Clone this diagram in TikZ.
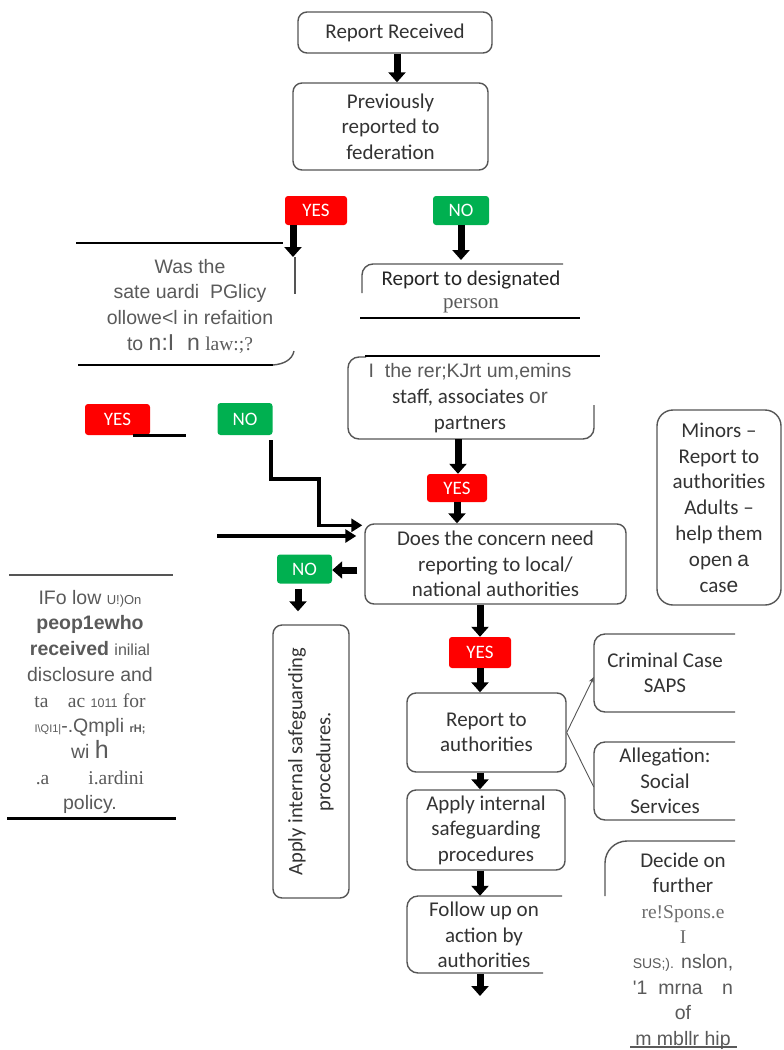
\documentclass[tikz,border=0pt]{standalone}
\usepackage{fontspec}
\setmainfont{Carlito}
\newfontfamily\arialf{Liberation Sans}
\newfontfamily\timesf{Liberation Serif}
\usetikzlibrary{arrows.meta}
\definecolor{boxgray}{HTML}{555555}
\definecolor{txtdark}{HTML}{333333}
\definecolor{ocrgray}{HTML}{5A5A5A}
\definecolor{ocrlight}{HTML}{6E6E6E}
\definecolor{yesred}{HTML}{FF0000}
\definecolor{nogreen}{HTML}{00B050}
\tikzset{
  fbox/.style={draw=boxgray, line width=1.4pt, rounded corners=9pt, align=center, text=txtdark,
    font=\fontsize{21}{25.5}\selectfont, inner sep=0pt},
  ftext/.style={align=center, text=txtdark, font=\fontsize{21}{25.5}\selectfont, inner sep=0pt},
  openbox/.style={draw=boxgray, line width=1.4pt, rounded corners=11pt},
  ybox/.style={fill=yesred, rounded corners=3pt, text=white, font=\fontsize{19}{20}\selectfont, inner sep=0pt},
  nbox/.style={fill=nogreen, rounded corners=3pt, text=white, font=\fontsize{19}{20}\selectfont, inner sep=0pt},
  blockarrow/.style={draw=black, line width=7pt, -{Triangle[width=17pt,length=10pt]}},
  elbow/.style={draw=black, line width=3.5pt, -{Triangle[width=13pt,length=11pt]}},
  thinarrow/.style={draw=boxgray, line width=0.9pt},
  ocr/.style={text=ocrgray, align=center, font=\arialf\fontsize{19.5}{25.7}\selectfont, inner sep=0pt},
  rule/.style={draw=black, line width=2pt},
  grayrule/.style={draw=boxgray, line width=1.4pt},
}
\begin{document}
\begin{tikzpicture}[x=1pt,y=-1pt]
\useasboundingbox[fill=white] (0,0) rectangle (784,1050);

% top chain
\node[fbox, minimum width=194pt, minimum height=41pt] (rr) at (395,32.5) {Report Received};
\node[fbox, minimum width=195pt, minimum height=87pt] (prev) at (390.5,126.5) {Previously\\reported to\\federation};
\draw[blockarrow] ([xshift=2pt]rr.south) -- ([xshift=2pt]rr.south |- prev.north);

\node[ybox, minimum width=62pt, minimum height=29pt] (yes1) at (316,210.5) {YES};
\node[nbox, minimum width=56pt, minimum height=29pt] (no1) at (461,210.5) {NO};

% "Was the ..." block
\node[ocr] (was) at (190,306) {Was the\\sate uardi\ \ PGlicy\\ollowe<l in refaition\\to {\fontsize{23}{25.7}\selectfont n:I\ \ n} {\timesf law:;?}};
\coordinate (wasin) at (293,257);
\draw[blockarrow] (yes1.south -| wasin) -- (wasin);
\draw[grayrule] (295,257) -- (295,294);
\draw[line width=1.7pt] (76,243) -- (283,243);
\draw[line width=2.3pt] (78,365) -- (273,365);
\draw[grayrule] (294,351) .. controls (292,360) and (284,364) .. (273,365);

% Report to designated person
\node[ftext, font=\fontsize{21}{23}\selectfont, text=black!85] (des) at (471,292) {Report to designated\\{\timesf\color{ocrgray}person}};
\draw[openbox] (362,293) -- (362,264) -- (563,264);
\draw[rule] (360,318) -- (580,318);
\coordinate (desin) at (461,260);
\draw[blockarrow] (no1.south) -- (desin);

% staff box
\node[ftext, font=\fontsize{21}{26}\selectfont] (staff) at (470,398) {{\arialf\fontsize{19.5}{26}\selectfont\color{ocrgray}I\ \ the rer;KJrt um,emins}\\staff, associates {\arialf\color{ocrgray}or}\\partners};
\draw[openbox] (366,357) -- (348,357) -- (348,439) -- (594,439) -- (594,405);
\draw[rule] (365,356) -- (600,356);

\node[ybox, minimum width=60pt, minimum height=28pt] (yes2) at (457,488) {YES};
\coordinate (staffbot) at (458,439);
\draw[blockarrow] (staffbot) -- (staffbot |- yes2.north);
\node[fbox, minimum width=261pt, minimum height=80pt] (does) at (495.5,564) {Does the concern need\\reporting to local/\\national authorities};
\draw[blockarrow] (yes2.south) -- (yes2.south |- does.north);

% left YES / NO
\node[ybox, minimum width=65pt, minimum height=31pt] (yesL) at (117.5,419.5) {YES};
\draw[line width=3pt] (133,435) -- (186,435);
\node[nbox, minimum width=55pt, minimum height=32pt] (noL) at (245,419) {NO};
\draw[elbow] ([xshift=-1.5pt,yshift=-5pt]noL.south east) |- (319,479) |- ([xshift=-2pt,yshift=-2pt]does.north west);
\coordinate (lin) at (217,536);
\draw[elbow] (lin) -- ([xshift=-8pt]does.west |- lin);

% NO branch to internal procedures
\node[nbox, minimum width=55pt, minimum height=29pt] (no2) at (304.5,569) {NO};
\coordinate (nostart) at ([yshift=-6pt,xshift=-7pt]does.west);
\draw[blockarrow] (nostart) -- (no2.east |- nostart);
\node[fbox, rotate=90, minimum width=273pt, minimum height=76pt, font=\fontsize{20.5}{28}\selectfont] (applyV) at (311,761.5) {Apply internal safeguarding\\procedures.};
\draw[blockarrow, shorten <=5pt, shorten >=13pt] ([xshift=-6.5pt]no2.south) -- ([xshift=-6.5pt]no2.south |- applyV.east);

% left OCR block
\node[ocr] (fup) at (90,702) {IFo low {\fontsize{13}{25.7}\selectfont U!)On}\\
{\bfseries peop1ewho}\\
{\bfseries received} {\fontsize{16}{25.7}\selectfont inilial}\\
disclosure and\\
{\timesf ta\quad ac} {\fontsize{12.5}{25.7}\selectfont 1011} {\timesf for}\\
{\fontsize{11}{25.7}\selectfont I\textbackslash QI1|}-.Qmpli {\fontsize{11}{25.7}\selectfont\bfseries rH;}\\
wi {\fontsize{25}{25.7}\selectfont h}\\
{\timesf .a\qquad i.ardini}\\
policy.};
\draw[grayrule] (9,575) -- (173,575);
\draw[line width=3pt] (7,818) -- (176,818);

% Minors box
\node[fbox, rounded corners=16pt, minimum width=124pt, minimum height=195pt, font=\fontsize{21}{25.8}\selectfont] (minors) at (719,507.5) {Minors --\\Report to\\authorities\\Adults --\\help them\\open {\arialf a}\\cas{\arialf e}};

% YES -> report to authorities
\node[ybox, minimum width=62pt, minimum height=31pt] (yes3) at (480,652.5) {YES};
\draw[blockarrow] (yes3.north |- does.south) -- (yes3.north);
\node[fbox, minimum width=159pt, minimum height=79pt] (rta) at (486.5,732.5) {Report to\\authorities};
\draw[blockarrow] (yes3.south) -- (yes3.south |- rta.north);

% right branches
\node[ftext, minimum width=139pt, minimum height=78pt] (crim) at (665,673) {Criminal Case\\SAPS};
\draw[openbox] (735,634) -- (594,634) -- (594,712) -- (735,712);
\node[ftext, minimum width=139pt, minimum height=78pt] (alleg) at (665,781) {Allegation:\\Social\\Services};
\draw[openbox] (735,742) -- (594,742) -- (594,820) -- (735,820);
\draw[thinarrow, -{Stealth[length=6pt,width=5pt]}] (rta.east) -- ([xshift=-1.5pt,yshift=-4pt]crim.west);
\draw[thinarrow] (rta.east) -- ([xshift=-1.5pt,yshift=-6pt]alleg.west);

% lower chain
\node[fbox, minimum width=158pt, minimum height=80pt] (apply2) at (486,830) {Apply internal\\safeguarding\\procedures};
\draw[blockarrow] (yes3.south |- rta.south) -- (yes3.south |- apply2.north);
\node[ftext, minimum width=150pt, minimum height=78pt] (follow) at (484,935) {Follow up on\\action by\\authorities};
\draw[openbox] (562,896) -- (407,896) -- (407,973) -- (543,973);
\draw[blockarrow] (yes3.south |- apply2.south) -- (yes3.south |- follow.north);
\coordinate (fend) at (480,996);
\draw[blockarrow] (yes3.south |- follow.south) -- (fend);

% Decide box
\node[ocr, font=\arialf\fontsize{19.5}{25.4}\selectfont] (decide) at (683,951) {{\rmfamily\color{txtdark}\fontsize{21}{25.4}\selectfont Decide on}\\
{\rmfamily\color{txtdark}\fontsize{21}{25.4}\selectfont further}\\
{\timesf\color{ocrlight}re!Spons.e}\\
{\timesf\color{ocrlight}I}\\
{\fontsize{14}{25.4}\selectfont SUS;).} nslon,\\
'1\ \ mrna\quad n\\
of\\
m\ mbllr hip};
\draw[openbox, rounded corners=22pt] (605,896) -- (605,841) -- (735,841);
\draw[draw=ocrgray, line width=2.5pt] (630,1047) -- (737,1047);
\end{tikzpicture}
\end{document}
